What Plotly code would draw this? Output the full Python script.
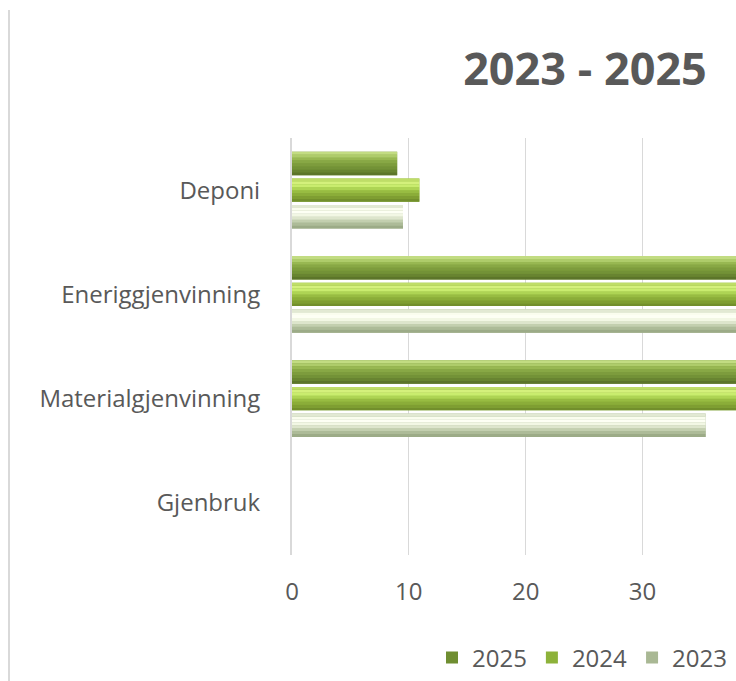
import plotly.graph_objects as go

# --- Data ---
CATEGORIES = ["Deponi", "Eneriggjenvinning", "Materialgjenvinning", "Gjenbruk"]
YEARS = ["2023", "2024", "2025"]
VALUES_2023 = [9.5, 48.0, 35.4, 0]
VALUES_2024 = [10.9, 50.0, 44.0, 0]
VALUES_2025 = [9.0, 52.0, 42.0, 0]
TICK_VALUES = [0, 10, 20, 30]

# --- Style ---
FONT = "Open Sans"
TEXT = "#595959"
BAR_W = 0.225
GAP = 0.03
# colour bands bottom -> top, to fake the bevelled look
BANDS = {
    "2025": ["#5C752A", "#688431", "#739237", "#7D9C3D", "#88A845", "#98B852", "#AECC6A", "#C2DC82"],
    "2024": ["#728F2C", "#7F9E32", "#8BAD39", "#98BC42", "#AED454", "#C9EC6E", "#D4F07C", "#BFDD68"],
    "2023": ["#9CAB87", "#ADBB98", "#C3CFAF", "#DDE5CC", "#F2F7E4", "#FDFFF4", "#FAFDEE", "#E2E9D3"],
}
LEGEND_COLOR = {"2025": "#6F8E31", "2024": "#8DB23A", "2023": "#A9B894"}
SERIES = {"2023": VALUES_2023, "2024": VALUES_2024, "2025": VALUES_2025}

W, H = 736, 681
L, R, T, B = 292, 0, 138, 681 - 555


def px_x(px):  # page px -> container fraction
    return px / W


def px_y(px):
    return 1 - px / H


fig = go.Figure()
for i, yr in enumerate(YEARS):
    off = -(3 * BAR_W + 2 * GAP) / 2 + i * (BAR_W + GAP)
    vals = SERIES[yr]
    fig.add_trace(go.Bar(y=CATEGORIES, x=vals, orientation="h", name=yr, width=BAR_W, offset=off,
                         marker=dict(color=LEGEND_COLOR[yr], line=dict(width=0)), legendrank=10 - i))
    n = len(BANDS[yr])
    for k, c in enumerate(BANDS[yr]):
        fig.add_trace(go.Bar(y=CATEGORIES, x=vals, orientation="h", width=BAR_W / n, offset=off + k * BAR_W / n,
                             marker=dict(color=c, line=dict(width=0)), showlegend=False, hoverinfo="skip"))

fig.update_layout(
    width=W, height=H,
    margin=dict(l=L, r=R, t=T, b=B),
    barmode="overlay",
    plot_bgcolor="white", paper_bgcolor="white",
    font=dict(family=FONT, color=TEXT, size=24),
    title=dict(text="<b>2023 - 2025</b>", x=px_x(585), xanchor="center", y=px_y(69), yanchor="middle",
               xref="container", yref="container", font=dict(family=FONT, size=45, color=TEXT)),
    legend=dict(orientation="h", xref="container", yref="container", x=px_x(432), xanchor="left",
                y=px_y(658), yanchor="middle", font=dict(size=24, color=TEXT), itemwidth=30),
    showlegend=True,
)
fig.update_xaxes(range=[0, 38], tickvals=TICK_VALUES, showgrid=True, gridcolor="#D9D9D9", gridwidth=1,
                 zeroline=False, showline=False, ticks="", ticklabelstandoff=20, fixedrange=True)
fig.update_yaxes(type="category", categoryorder="array", categoryarray=CATEGORIES[::-1],
                 showline=True, linecolor="#D9D9D9", linewidth=2, showgrid=False, ticks="",
                 ticklabelstandoff=25, tickfont=dict(size=24, color=TEXT), fixedrange=True)
# outer chart border (left edge visible)
fig.add_shape(type="line", xref="paper", yref="paper", x0=(9 - 292) / 444, x1=(9 - 292) / 444,
              y0=(555 - 10) / 417, y1=(555 - 690) / 417, line=dict(color="#D9D9D9", width=2))

# drop the default body margin so the figure fills the window exactly
fig.write_html("out.html", config={"displayModeBar": False},
               post_script="document.body.style.margin='0';document.body.style.overflow='hidden';")
